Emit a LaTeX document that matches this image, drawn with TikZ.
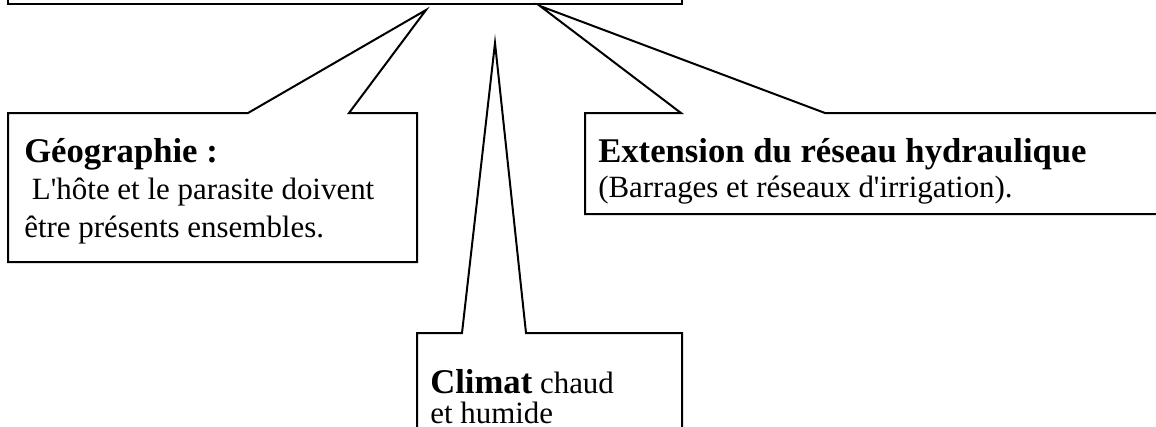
\documentclass[tikz,border=0pt]{standalone}
\usepackage{fontspec}
\setmainfont{Liberation Serif}
\tikzset{
  bulle/.style={draw=black, line width=1.5pt, line join=miter, fill=white},
  texte/.style={anchor=north west, inner sep=0pt, align=left, font=\fontsize{23.2}{28}\selectfont},
}
\newcommand{\titre}[1]{{\fontsize{26}{28}\selectfont\bfseries #1}}
\newcommand{\apos}{\textquotesingle}

\begin{document}
\begin{tikzpicture}[x=0.75pt,y=-0.75pt]
\useasboundingbox (0,0) rectangle (1156,426);
\clip (0,0) rectangle (1156,426);
% Cadre du haut
\draw[bulle] (8,-20) rectangle (682,4);
% Pointes des bulles
\coordinate (pGeo) at (426,10);
\coordinate (pClim) at (495,43);
\coordinate (pExt) at (540,6);
% Bulle Géographie
\draw[bulle] (8,113) -- (248,113) -- (pGeo) -- (349,113) -- (417,113) -- (417,262) -- (8,262) -- cycle;
\node[texte] (geo) at (24,138) {\titre{Géographie :}\\\ L\apos hôte et le parasite doivent\\être présents ensembles.};
% Bulle Extension
\draw[bulle] (585,113) -- (681,113) -- (pExt) -- (825,113) -- (1170,113) -- (1170,214) -- (585,214) -- cycle;
\node[texte] (ext) at (598,138) {\titre{Extension du réseau hydraulique}\\[-2pt](Barrages et réseaux d\apos irrigation).};
% Bulle Climat
\draw[bulle] (417,333) -- (462,333) -- (pClim) -- (526,333) -- (682,333) -- (682,440) -- (417,440) -- cycle;
\node[texte] (clim) at (430,369) {\titre{Climat} chaud\\[-5pt]et humide};
\end{tikzpicture}
\end{document}
